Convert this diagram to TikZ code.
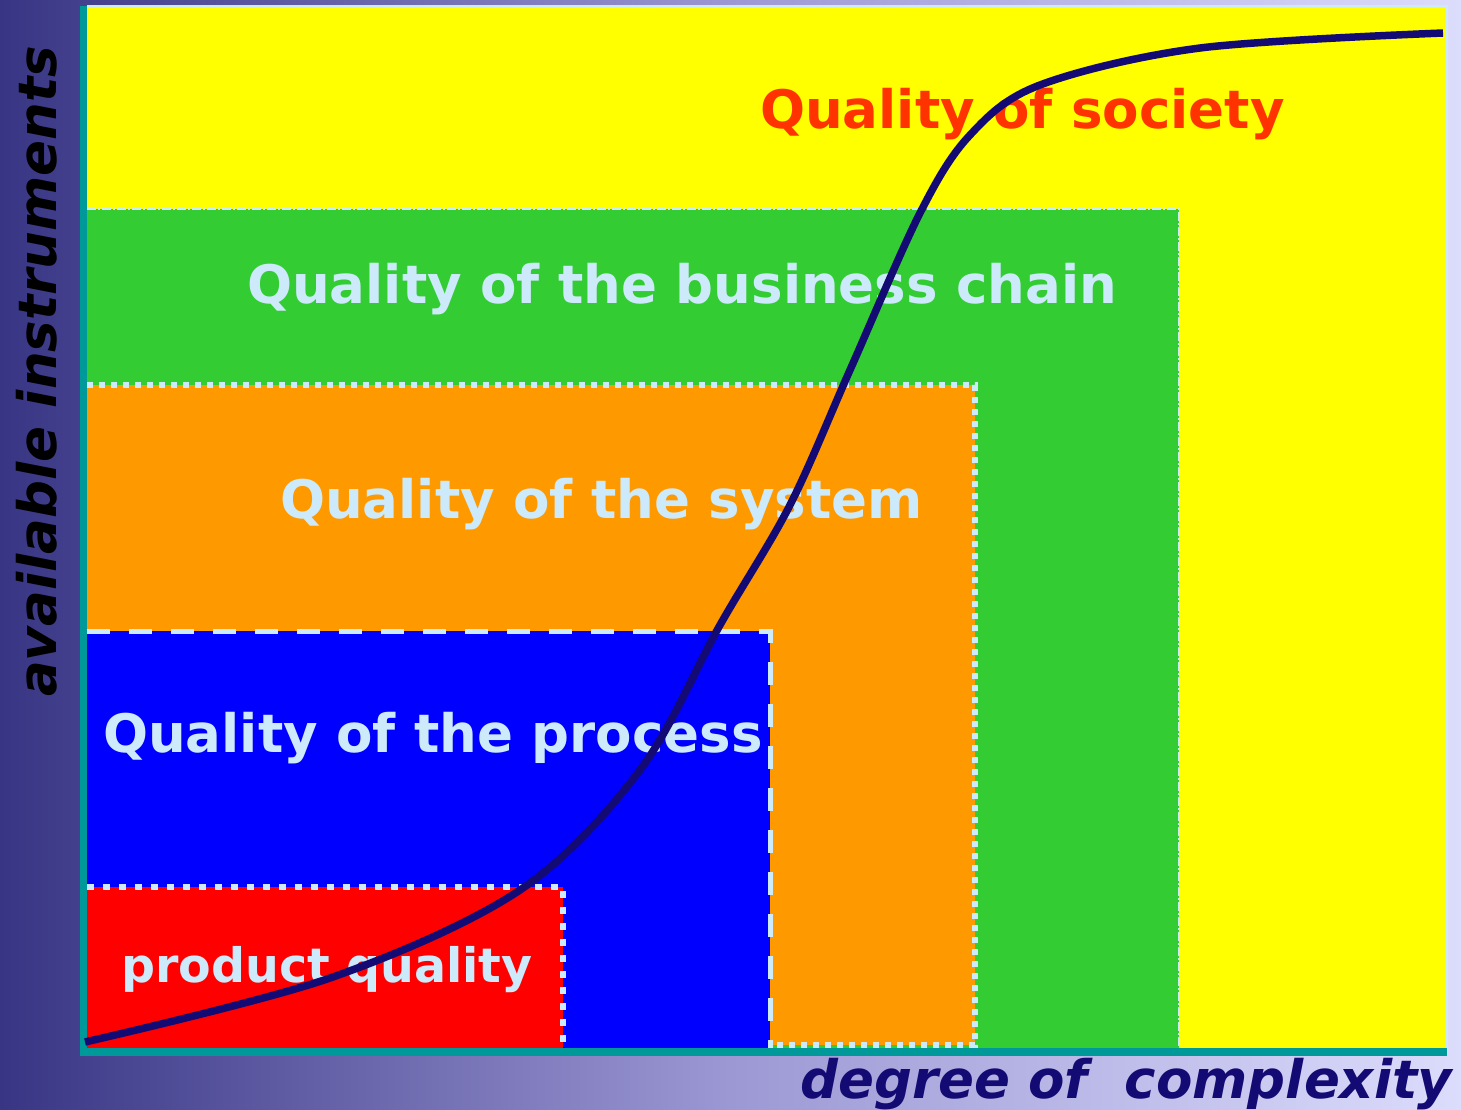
\documentclass[tikz,border=0pt]{standalone}
\usepackage{fontspec}
\setmainfont{DejaVu Sans}
\begin{document}
\definecolor{bgdark}{HTML}{383584}
\definecolor{bgmid}{HTML}{9C98D4}
\definecolor{bglight}{HTML}{DCDCFC}
\definecolor{axisteal}{HTML}{009999}
\definecolor{edge}{HTML}{CCEAFA}
\definecolor{qyellow}{HTML}{FFFF00}
\definecolor{qgreen}{HTML}{33CC33}
\definecolor{qorange}{HTML}{FF9900}
\definecolor{qblue}{HTML}{0000FF}
\definecolor{qred}{HTML}{FF0000}
\definecolor{society}{HTML}{FF3300}
\definecolor{curvenavy}{HTML}{140A73}
\begin{tikzpicture}[x=1pt,y=-1pt,
  label/.style={anchor=base west, inner sep=0pt, text=edge, font=\bfseries\fontsize{53}{60}\selectfont},
  axislabel/.style={anchor=base west, inner sep=0pt, font=\bfseries\itshape\fontsize{53}{60}\selectfont}]
  % background
  \shade[left color=bgdark, right color=bglight, middle color=bgmid] (0,0) rectangle (1461,1109);
  \useasboundingbox (0,0) rectangle (1461,1109);
  % nested quality levels
  \fill[qyellow] (87,6) rectangle (1447,1050);
  \draw[edge, line width=2] (87,6) -- (1447,6) -- (1447,1050);
  \fill[qgreen] (87,209) rectangle (1179,1050);
  \draw[edge, line width=2.2, dash pattern=on 9 off 2 on 2 off 2] (87,209) -- (1179,209) -- (1179,1050);
  \fill[qorange] (87,385) rectangle (975,1045);
  \draw[edge, line width=5.5, dash pattern=on 6 off 6] (87,385) -- (975,385) -- (975,1045) -- (770,1045);
  \fill[qblue] (87,631) rectangle (770,1048);
  \draw[edge, line width=5, dash pattern=on 23 off 19] (87,631) -- (770,631) -- (770,1048);
  \fill[qred] (87,887) rectangle (563,1048);
  \draw[edge, line width=6.5, dash pattern=on 7 off 9] (87,887) -- (563,887) -- (563,1048);
  % labels
  \node[label, text=society] (soc) at (760,128) {Quality of society};
  \node[label] (chain) at (247,303) {Quality of the business chain};
  \node[label] (sys) at (280,518) {Quality of the system};
  \node[label] (proc) at (103,752) {Quality of the process};
  \node[label, font=\bfseries\fontsize{47.5}{55}\selectfont] (prod) at (121,982) {product quality};
  % axes
  \draw[axisteal, line width=7.5] (83.5,6) -- (83.5,1052);
  \draw[axisteal, line width=7.5] (80,1052) -- (1447,1052);
  \node[axislabel, text=curvenavy] (xlab) at (800,1098) {degree of\ \ complexity};
  \node[axislabel, text=black, rotate=90] (ylab) at (56,697) {available instruments};
  % growth curve
  \draw[curvenavy, line width=7.5, line cap=butt] plot[smooth, tension=0.55] coordinates {
    (85,1042) (330,978) (520,890) (640,770) (720,625) (790,505) (850,370)
    (920,213) (970,135) (1040,85) (1200,48) (1443,33)};
\end{tikzpicture}
\end{document}
